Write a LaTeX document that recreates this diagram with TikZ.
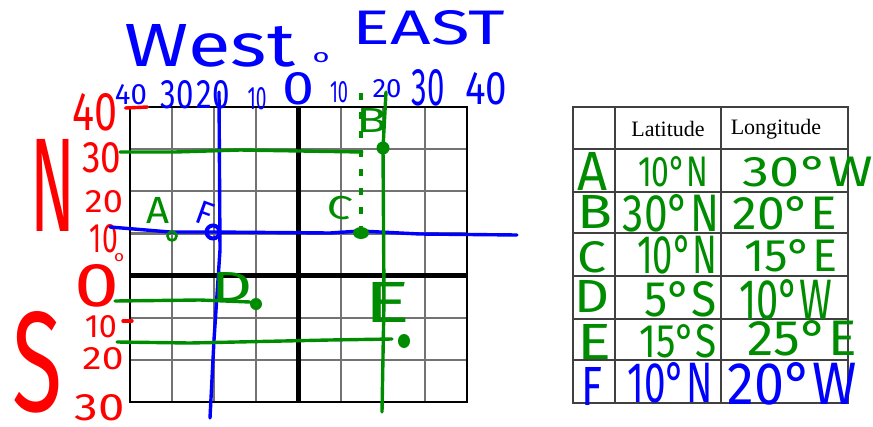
\documentclass[tikz,border=0pt]{standalone}
\usepackage{fontspec}
\usepackage{graphicx}
\setmainfont{Liberation Serif}
\newfontfamily\handfont{Fira Sans}
\usetikzlibrary{calc}
\definecolor{inkred}{RGB}{255,0,0}
\definecolor{inkblue}{RGB}{0,0,255}
\definecolor{inkgreen}{RGB}{0,140,0}
% hand lettering squeezed into a given box (width, height in px)
\newcommand{\hw}[3]{\resizebox{#1pt}{#2pt}{\handfont #3}}
\tikzset{
  gridline/.style={draw=black!55, line width=2.2pt},
  axisline/.style={draw=black, line width=4.5pt},
  tabline/.style={draw=black!75, line width=1.6pt},
  pen/.style={line width=3.4pt, line cap=round, line join=round},
  hand/.style={inner sep=0pt, outer sep=0pt},
  header/.style={inner sep=0pt, font=\fontsize{22}{24}\selectfont},
}

\begin{document}
\begin{tikzpicture}[x=1pt, y=-1pt]
\useasboundingbox (0,0) rectangle (873,426);

% grid
\foreach \i in {1,...,7}
  \draw[gridline] ({130+42.125*\i},107) -- ({130+42.125*\i},402);
\foreach \j in {1,...,6}
  \draw[gridline] (130,{107+42.14*\j}) -- (467,{107+42.14*\j});
\draw[line width=2pt] (130,107) rectangle (467,402);
\draw[axisline] (298.5,107) -- (298.5,402);
\draw[axisline] (130,275.6) -- (467,275.6);

% table
\draw[tabline] (573,107) rectangle (848,403);
\foreach \x in {615,721} \draw[tabline] (\x,107) -- (\x,403);
\foreach \y in {149,192,233,276,319,360} \draw[tabline] (573,\y) -- (848,\y);
\node[header] (hdlat) at (668,129) {Latitude};
\node[header] (hdlon) at (776,129) {Longitude};

% title
\node[hand, inkblue] (west) at (210,46) {\hw{170}{42}{West}};
\node[hand, inkblue] (deg) at (321,58) {\hw{17}{10}{o}};
\node[hand, inkblue] (east) at (429,28) {\hw{152}{34}{EAST}};

% longitude numbers
\node[hand, inkblue] (lonW40) at (131,95) {\hw{32}{20}{40}};
\node[hand, inkblue] (lonW30) at (177,95) {\hw{33}{28}{30}};
\node[hand, inkblue] (lonW20) at (213,95) {\hw{33}{28}{20}};
\node[hand, inkblue] (lonW10) at (257,99) {\hw{19}{22}{10}};
\node[hand, inkblue] (lon0) at (299,89) {\hw{32}{32}{0}};
\node[hand, inkblue] (lonE10) at (339,92) {\hw{18}{21}{10}};
\node[hand, inkblue] (lonE20) at (387,89) {\hw{29}{18}{20}};
\node[hand, inkblue] (lonE30) at (428,88) {\hw{33}{36}{30}};
\node[hand, inkblue] (lonE40) at (486,89) {\hw{42}{32}{40}};

% latitude numbers
\node[hand, inkred] (latN40) at (95,112) {\hw{45}{37}{40}};
\node[hand, inkred] (latN30) at (102,158) {\hw{39}{30}{30}};
\node[hand, inkred] (latN20) at (104,202) {\hw{38}{22}{20}};
\node[hand, inkred] (latN10) at (104,239) {\hw{28}{28}{10}};
\node[hand, inkred] (latdeg) at (119,258) {\hw{10}{8}{o}};
\node[hand, inkred] (lat0) at (97,286) {\hw{45}{42}{0}};
\node[hand, inkred] (latS10) at (101,327) {\hw{32}{22}{10}};
\node[hand, inkred] (latS20) at (103,359) {\hw{41}{22}{20}};
\node[hand, inkred] (latS30) at (100,408) {\hw{50}{26}{30}};
\node[hand, inkred] (north) at (53,185) {\hw{45}{92}{N}};
\node[hand, inkred] (south) at (38,362) {\hw{50}{100}{S}};
\draw[pen, inkred] (latN40.east) ++(8,-4) coordinate (t40a) -- ++(22,-1) coordinate (t40b);
\draw[pen, inkred] (latS10.east) ++(6,-6) coordinate (t10a) -- ++(9,0) coordinate (t10b);

% points
\coordinate (ptA) at (172,236);
\coordinate (ptB) at (383,148);
\coordinate (ptC) at (361,233);
\coordinate (ptD) at (256,304);
\coordinate (ptE) at (404,341);
\coordinate (ptF) at (213,232);

% blue lines through F
\coordinate (blW) at (110,227);
\coordinate (blE) at (517,235);
\coordinate (blN) at (219,92);
\coordinate (blS) at (210,418);
\draw[pen, inkblue] (blW) -- (170,232) -- (ptF) -- (330,233) -- (360,231) -- (420,234) -- (blE);
\draw[pen, inkblue] (blN) -- (220,250) -- (214,340) -- (blS);
\draw[inkblue, line width=4pt] (ptF) circle (6.5);
\node[hand, inkblue, rotate=-20] (labF) at (205,213) {\hw{16}{23}{F}};

% green lines
\coordinate (grB) at (120,152);
\coordinate (grBtop) at (386,92);
\coordinate (grBbot) at (382,412);
\coordinate (grCtop) at (361,93);
\coordinate (grD) at (115,301);
\coordinate (grE) at (117,342);
\draw[pen, inkgreen] (grB) -- (175,152) -- (240,150) -- (362,152);
\draw[pen, inkgreen] (grBtop) -- (ptB) -- (384,300) -- (grBbot);
\draw[pen, inkgreen, line cap=butt, dash pattern=on 7pt off 12pt] (grCtop) -- ($(ptC)+(0,-6)$);
\draw[pen, inkgreen] (grD) -- (200,300) -- ($(ptD)+(-6,-2)$);
\draw[pen, inkgreen] (grE) -- (190,343) -- (330,340) -- ($(ptE)+(-12,-2)$);
\fill[inkgreen] (ptB) circle (6.5);
\fill[inkgreen] (ptC) ellipse (8 and 6);
\fill[inkgreen] (ptD) circle (6);
\fill[inkgreen] (ptE) ellipse (6 and 7);
\draw[inkgreen, line width=2.6pt] (ptA) circle (4.5);
\node[hand, inkgreen] (labA) at (158,210) {\hw{23}{26}{A}};
\node[hand, inkgreen] (labB) at (372,120) {\hw{31}{24}{B}};
\node[hand, inkgreen, rotate=-10] (labC) at (340,208) {\hw{25}{23}{C}};
\node[hand, inkgreen] (labD) at (232,287) {\hw{41}{29}{D}};
\node[hand, inkgreen] (labE) at (388,302) {\hw{46}{40}{E}};

% table rows
\node[hand, inkgreen] (rowA) at (592,171) {\hw{30}{38}{A}};
\node[hand, inkgreen] (latA) at (673,172) {\hw{70}{30}{10°N}};
\node[hand, inkgreen] (lonA) at (808,172) {\hw{130}{30}{30°W}};
\node[hand, inkgreen] (rowB) at (595,212) {\hw{35}{33}{B}};
\node[hand, inkgreen] (latB) at (671,213) {\hw{96}{37}{30°N}};
\node[hand, inkgreen] (lonB) at (785,213) {\hw{105}{33}{20°E}};
\node[hand, inkgreen] (rowC) at (592,257) {\hw{29}{31}{C}};
\node[hand, inkgreen] (latC) at (677,255) {\hw{80}{38}{10°N}};
\node[hand, inkgreen] (lonC) at (791,256) {\hw{93}{32}{15°E}};
\node[hand, inkgreen] (rowD) at (592,296) {\hw{35}{32}{D}};
\node[hand, inkgreen] (latD) at (681,299) {\hw{72}{35}{5°S}};
\node[hand, inkgreen] (lonD) at (786,300) {\hw{93}{40}{10°W}};
\node[hand, inkgreen] (rowE) at (595,342) {\hw{34}{35}{E}};
\node[hand, inkgreen] (latE) at (678,341) {\hw{77}{33}{15°S}};
\node[hand, inkgreen] (lonE) at (802,338) {\hw{109}{35}{25°E}};
\node[hand, inkblue] (rowF) at (592,386) {\hw{21}{38}{F}};
\node[hand, inkblue] (latF) at (670,383) {\hw{85}{40}{10°N}};
\node[hand, inkblue] (lonF) at (792,384) {\hw{129}{42}{20°W}};

\end{tikzpicture}
\end{document}
